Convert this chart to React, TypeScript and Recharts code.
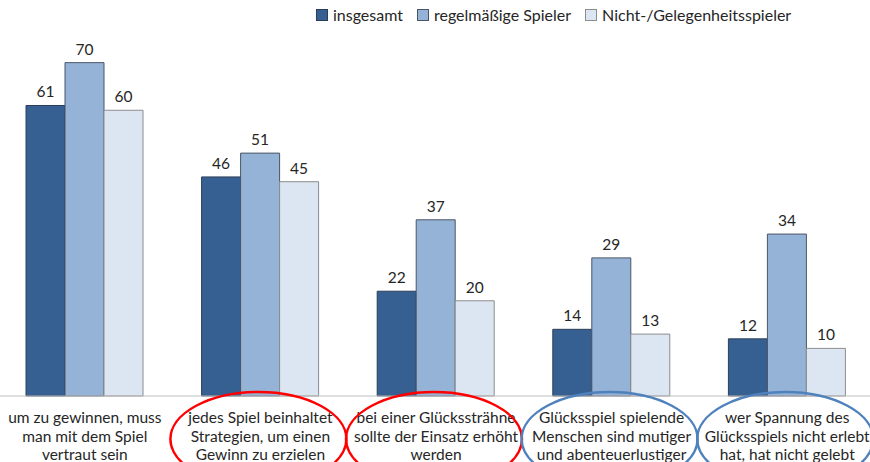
import { BarChart, Bar, XAxis, YAxis, LabelList } from 'recharts';

const categories = [
  ['um zu gewinnen, muss', 'man mit dem Spiel', 'vertraut sein'],
  ['jedes Spiel beinhaltet', 'Strategien, um einen', 'Gewinn zu erzielen'],
  ['bei einer Glückssträhne', 'sollte der Einsatz erhöht', 'werden'],
  ['Glücksspiel spielende', 'Menschen sind mutiger', 'und abenteuerlustiger'],
  ['wer Spannung des', 'Glücksspiels nicht erlebt', 'hat, hat nicht gelebt'],
];
const insgesamt = [61, 46, 22, 14, 12];
const regelmaessig = [70, 51, 37, 29, 34];
const gelegentlich = [60, 45, 20, 13, 10];
// which categories got circled, and in which colour
const circled: (string | null)[] = [null, '#ff0000', '#ff0000', '#4f81bd', '#4f81bd'];

const SERIES = [
  { key: 'insgesamt', name: 'insgesamt', fill: '#376092', stroke: '#2c3e57' },
  { key: 'regel', name: 'regelmäßige Spieler', fill: '#95b3d7', stroke: '#4a5566' },
  { key: 'nicht', name: 'Nicht-/Gelegenheitsspieler', fill: '#dce6f2', stroke: '#8c8c8c' },
];

const data = categories.map((c, i) => ({
  idx: i,
  insgesamt: insgesamt[i],
  regel: regelmaessig[i],
  nicht: gelegentlich[i],
}));

const FONT = 'Lato, "Open Sans", sans-serif';

function CategoryTick({ x, y, payload }: any) {
  const i = payload.value as number;
  const lines = categories[i];
  const col = circled[i];
  return (
    <g>
      {lines.map((l, k) => (
        <text key={k} x={x} y={y + 19 + k * 18.5} textAnchor="middle" fontSize={15.5} fill="#262626" fontFamily={FONT}>
          {l}
        </text>
      ))}
      {col && <ellipse cx={x - 2} cy={y + 35} rx={88} ry={47} fill="none" stroke={col} strokeWidth={2.5} />}
    </g>
  );
}

function LegendBox() {
  return (
    <div style={{ position: 'absolute', top: 5, left: 319, display: 'flex', fontFamily: FONT, fontSize: 16, color: '#262626' }}>
      {SERIES.map((s) => (
        <div key={s.key} style={{ display: 'flex', alignItems: 'center', marginRight: 14 }}>
          <span style={{ width: 10, height: 10, background: s.fill, border: `1px solid ${s.stroke}`, marginRight: 5 }} />
          <span>{s.name}</span>
        </div>
      ))}
    </div>
  );
}

export default function App() {
  return (
    <div style={{ position: 'absolute', left: -3, top: 0, width: 878, height: 462, background: '#fff' }}>
      <BarChart width={878} height={462} data={data} margin={{ top: 15, right: 0, left: 0, bottom: 0 }} barGap={0} barSize={39}>
        <XAxis
          dataKey="idx"
          height={66}
          axisLine={{ stroke: '#bfbfbf' }}
          tickLine={false}
          interval={0}
          tick={<CategoryTick />}
        />
        <YAxis hide domain={[0, 80]} />
        {SERIES.map((s) => (
          <Bar key={s.key} dataKey={s.key} name={s.name} fill={s.fill} stroke={s.stroke} strokeWidth={1} isAnimationActive={false}>
            <LabelList dataKey={s.key} position="top" offset={8} fill="#262626" fontSize={15.5} fontFamily={FONT} />
          </Bar>
        ))}
      </BarChart>
      <LegendBox />
    </div>
  );
}
